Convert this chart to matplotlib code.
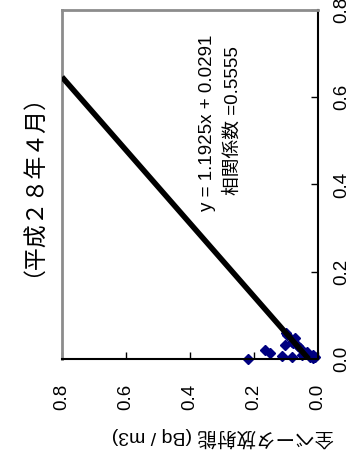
import matplotlib
matplotlib.use("Agg")
import matplotlib.pyplot as plt
import numpy as np

plt.rcParams['font.family'] = ['Liberation Sans', 'Noto Sans CJK JP', 'DejaVu Sans']

# Data (original orientation: x = horizontal axis quantity, y = 全ベータ放射能)
x_vals = [0.000, 0.020, 0.014, 0.007, 0.032, 0.055, 0.005, 0.037, 0.048, 0.025,
          0.009, 0.016, 0.005, 0.009, 0.005, 0.030, 0.040, 0.060, 0.012, 0.003]
y_vals = [0.220, 0.166, 0.150, 0.113, 0.103, 0.097, 0.081, 0.078, 0.072, 0.056,
          0.050, 0.034, 0.025, 0.016, 0.010, 0.062, 0.080, 0.100, 0.040, 0.015]
slope = 1.1925
intercept = 0.0291
ticks = [0.0, 0.2, 0.4, 0.6, 0.8]
tick_labels = ["0.0", "0.2", "0.4", "0.6", "0.8"]
title = "（平成２８年４月）"
eq_text = "y = 1.1925x + 0.0291"
r_text = "相関係数 =0.5555"
ylabel = "全ベータ放射能 (Bq / m3)"

fig = plt.figure(figsize=(3.55, 4.55), dpi=100)
ax = fig.add_axes([62/355, 1 - 359/455, (318-62)/355, (359-10)/455])

# Chart rotated 90° CCW: horizontal = original y (inverted), vertical = original x
x_end = (0.8 - intercept) / slope
xl = np.array([0.0, x_end])
yl = slope * xl + intercept
ax.plot(yl, xl, color='black', lw=4, solid_capstyle='butt', zorder=3)
ax.plot(y_vals, x_vals, linestyle='none', marker='D', markersize=5.5,
        color='#000080', clip_on=False, zorder=2)

ax.set_xlim(0.8, 0.0)
ax.set_ylim(0.0, 0.8)
ax.set_xticks(ticks)
ax.set_xticklabels(tick_labels, rotation=90, fontsize=13.5)
ax.set_yticks(ticks)
ax.set_yticklabels(tick_labels, rotation=90, fontsize=13.5, va='center')
ax.yaxis.tick_right()
ax.tick_params(axis='x', direction='in', length=5, width=1, pad=18)
ax.tick_params(axis='y', direction='in', length=5, width=1, pad=11)

for s in ['left', 'top']:
    ax.spines[s].set_color('#8c8c8c')
    ax.spines[s].set_linewidth(2)
for s in ['right', 'bottom']:
    ax.spines[s].set_color('black')
    ax.spines[s].set_linewidth(1.5)

fig.text(22/355, 1 - 174/455, title, rotation=90, ha='center', va='center', fontsize=16.5)
fig.text(207/355, 1 - 123/455, eq_text, rotation=90, ha='center', va='center', fontsize=13.5)
fig.text(233/355, 1 - 121/455, r_text, rotation=90, ha='center', va='center', fontsize=13.5)
fig.text(223/355, 1 - 437/455, ylabel, rotation=180, ha='center', va='center', fontsize=14)

fig.savefig("out.png", dpi=100)
